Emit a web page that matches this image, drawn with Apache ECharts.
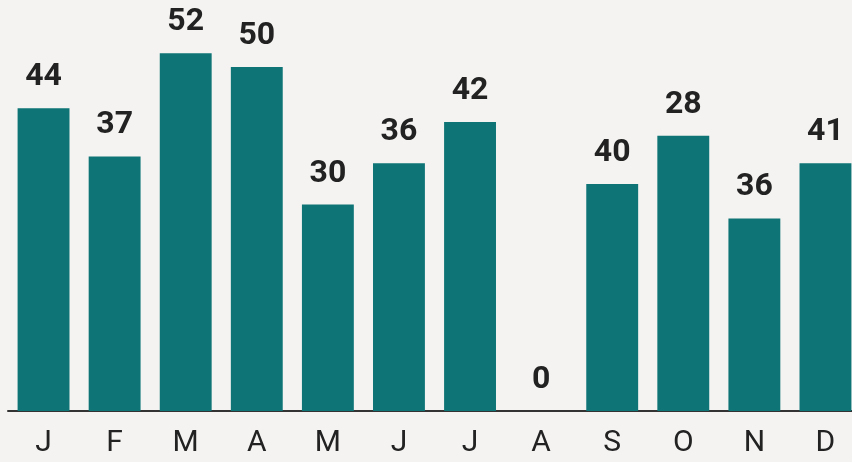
<!DOCTYPE html>
<html>
<head>
<meta charset="utf-8">
<script src="https://cdn.jsdelivr.net/npm/echarts@6/dist/echarts.min.js"></script>
<style>
  html, body { margin: 0; padding: 0; background: #f4f3f1; }
  #chart { width: 852px; height: 462px; }
</style>
</head>
<body>
<div id="chart"></div>
<script>
// months on the x axis
var months = ["J", "F", "M", "A", "M", "J", "J", "A", "S", "O", "N", "D"];
// bar heights as drawn
var barValues = [44, 37, 52, 50, 30, 36, 42, 0, 33, 40, 28, 36];
// numbers printed above the bars
var barLabels = [44, 37, 52, 50, 30, 36, 42, 0, 40, 28, 36, 41];

var chart = echarts.init(document.getElementById("chart"));

var option = {
  backgroundColor: "#f4f3f1",
  animation: false,
  grid: { left: 8, right: -9, top: 12, bottom: 51, outerBoundsMode: "none", containLabel: false },
  xAxis: {
    type: "category",
    data: months,
    axisTick: { show: false },
    axisLine: { lineStyle: { color: "#333", width: 2 } },
    axisLabel: {
      color: "#222",
      fontFamily: "Roboto",
      fontSize: 30,
      margin: 17
    }
  },
  yAxis: {
    type: "value",
    min: 0,
    max: 58,
    show: false,
    splitLine: { show: false }
  },
  series: [
    {
      type: "bar",
      data: barValues,
      barCategoryGap: "27%",
      itemStyle: { color: "#0e7476" },
      label: {
        show: true,
        position: "top",
        distance: 15,
        color: "#222",
        fontFamily: "Roboto",
        fontWeight: "bold",
        fontSize: 32,
        formatter: function (p) {
          return barLabels[p.dataIndex];
        }
      }
    }
  ]
};

chart.setOption(option);
</script>
</body>
</html>
